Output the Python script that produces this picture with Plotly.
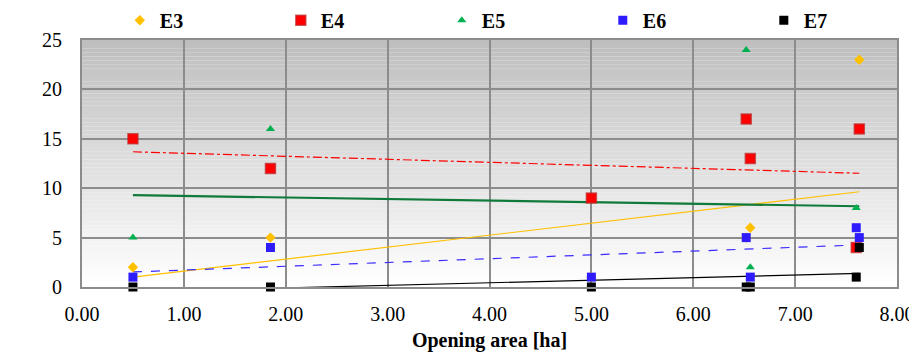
import numpy as np
import plotly.graph_objects as go

# ---- data ----
opening_area = [0.5, 1.85, 5.0, 6.52, 6.56, 7.6, 7.63]
E3 = [2, 5, 1, 5, 6, 4, 23]
E4 = [15, 12, 9, 17, 13, 4, 16]
E5 = [5, 16, 1, 24, 2, 8, 4]
E6 = [1, 4, 1, 5, 1, 6, 5]
E7 = [0, 0, 0, 0, 0, 1, 4]
x_ticks = [0, 1, 2, 3, 4, 5, 6, 7, 8]
y_ticks = [0, 5, 10, 15, 20, 25]

series = [
    ("E3", E3, dict(symbol="diamond", size=8, color="#ffc000"), dict(color="#ffc000", width=1.2, dash="solid")),
    ("E4", E4, dict(symbol="square", size=10, color="#ff0000", line=dict(color="rgba(190,40,40,0.7)", width=1.5)),
     dict(color="#ff0000", width=1.2, dash="dashdot")),
    ("E5", E5, dict(symbol="triangle-up", size=8, color="#00b050"), dict(color="#0f7a3a", width=2.2, dash="solid")),
    ("E6", E6, dict(symbol="square", size=9, color="#2e1cff"), dict(color="#3a2cff", width=1.2, dash="dash")),
    ("E7", E7, dict(symbol="square", size=9, color="#000000"), dict(color="#000000", width=1.2, dash="solid")),
]

fig = go.Figure()

# trendlines (linear least squares from the data)
xa = np.array(opening_area)
for name, ys, mk, ln in series:
    k, b = np.polyfit(xa, np.array(ys, dtype=float), 1)
    xs = np.array([xa.min(), xa.max()])
    fig.add_trace(go.Scatter(x=xs, y=k * xs + b, mode="lines", line=ln,
                             showlegend=False, hoverinfo="skip"))

for name, ys, mk, ln in series:
    fig.add_trace(go.Scatter(x=opening_area, y=ys, mode="markers", name=name,
                             marker=mk, cliponaxis=False))

# gradient plot background (grey at top -> white at bottom)
n = 60
shapes = []
for i in range(n):
    t = i / (n - 1)
    v = int(round(255 - (255 - 190) * t))
    shapes.append(dict(type="rect", xref="x domain", yref="y domain",
                       x0=0, x1=1, y0=i / n, y1=(i + 1) / n,
                       fillcolor=f"rgb({v},{v},{v})", line=dict(width=0),
                       layer="below"))

serif = "Liberation Serif"
tickfont = dict(family=serif, size=20, color="black")
titlefont = dict(family=serif, size=20, color="black", weight="bold")
# the page body has an 8px default margin, so the figure is sized to fit the window
fig.update_layout(
    width=909, height=346,
    margin=dict(l=74, r=20, t=32, b=67, autoexpand=False),
    paper_bgcolor="white",
    plot_bgcolor="rgba(0,0,0,0)",
    shapes=shapes,
    font=dict(family=serif, size=20, color="black"),
    legend=dict(orientation="h", xref="container", x=0.123, xanchor="left",
                yref="paper", y=1.08, yanchor="middle",
                entrywidth=116, entrywidthmode="pixels",
                font=dict(family=serif, size=20, color="black", weight="bold"),
                bgcolor="rgba(0,0,0,0)", itemclick=False),
    xaxis=dict(range=[0, 8], tickvals=x_ticks, ticktext=[f"{v:.2f}" for v in x_ticks],
               tickfont=tickfont, ticklabelstandoff=8, automargin=False,
               showgrid=True, gridcolor="#8c8c8c", gridwidth=1.5,
               showline=True, linecolor="#8c8c8c", linewidth=2, mirror=True,
               zeroline=False, ticks="", ticklen=0,
               title=dict(text="Opening area [ha]", font=titlefont, standoff=9)),
    yaxis=dict(range=[0, 25], tickvals=y_ticks, tickfont=tickfont,
               ticklabelstandoff=14, automargin=False,
               showgrid=True, gridcolor="#8c8c8c", gridwidth=1.5,
               showline=True, linecolor="#8c8c8c", linewidth=2, mirror=True,
               zeroline=False, ticks="", ticklen=0,
               title=dict(text="Number of tremors", font=titlefont, standoff=10)),
)

fig.write_html("out.html")
